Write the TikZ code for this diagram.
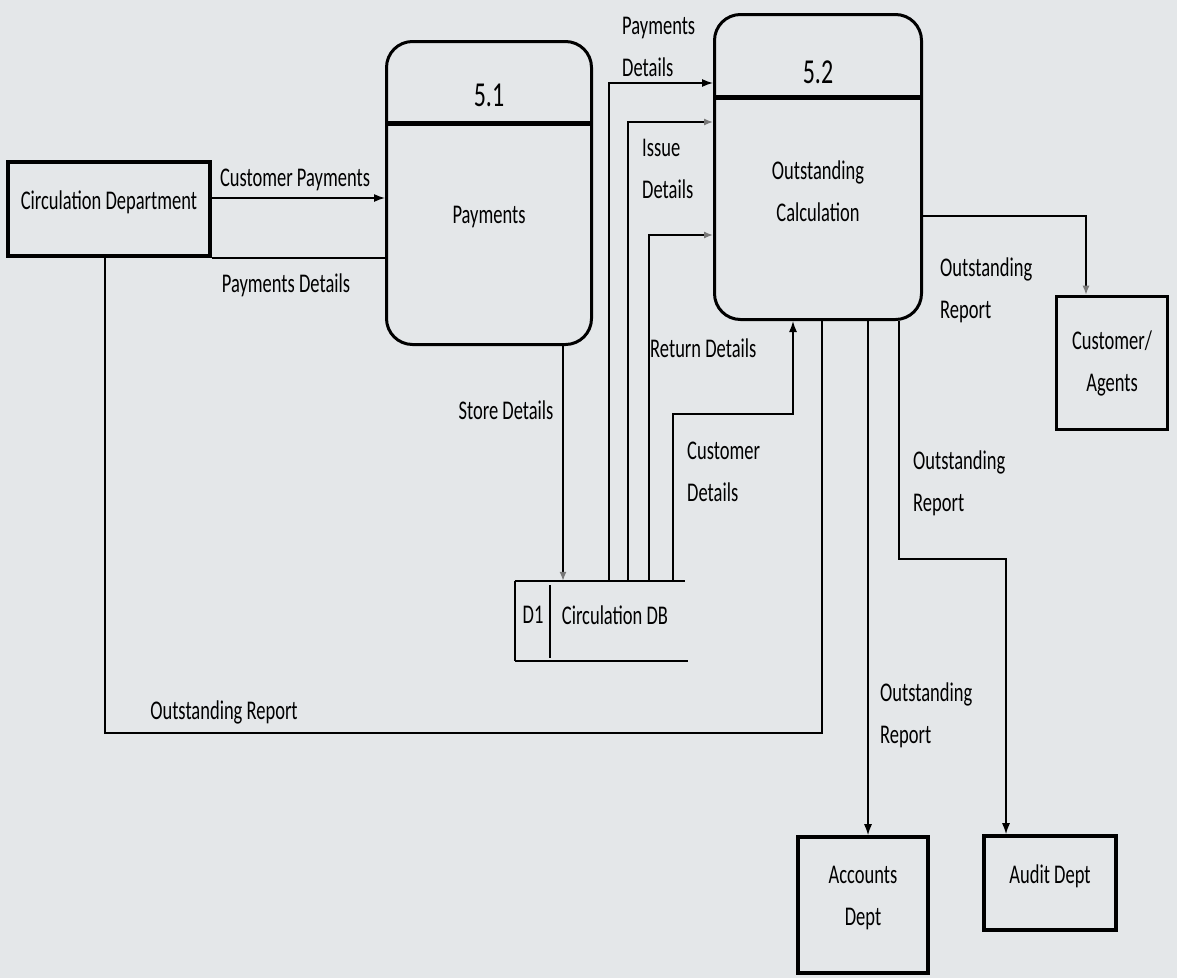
\documentclass[tikz,border=0pt]{standalone}
\usepackage{fontspec}
\setmainfont{Carlito}[FakeStretch=0.685]
\usepackage{xcolor}
\usetikzlibrary{arrows.meta,positioning}
\definecolor{paper}{RGB}{228,231,233}
\definecolor{tipgray}{RGB}{120,120,120}

\begin{document}
\begin{tikzpicture}[x=1pt, y=-1pt,
  every node/.style={font=\fontsize{27}{42}\selectfont},
  ent/.style={draw, line width=3.6pt, align=center, inner sep=0pt},
  proc/.style={draw, line width=3pt, rounded corners=26pt, inner sep=0pt},
  flow/.style={line width=1.4pt, -{Latex[length=11pt,width=8pt]}},
  faint/.style={line width=1.4pt, -{Latex[length=9pt,width=7pt,color=tipgray]}},
  plain/.style={line width=1.4pt},
  lbl/.style={inner sep=0pt, align=left, anchor=west}]
  \fill[paper] (0,0) rectangle (1177,978);
  \useasboundingbox (0,0) rectangle (1177,978);

  % external entities
  \node[ent, minimum width=202pt, minimum height=94pt] (circ) at (109,209)
       {Circulation Department\\[-24pt]};
  \node[ent, minimum width=111pt, minimum height=133pt] (cust) at (1112,363)
       {Customer/\\Agents};
  \node[ent, minimum width=130pt, minimum height=136pt] (accts) at (863,905)
       {Accounts\\Dept\\[-24pt]};
  \node[ent, minimum width=132pt, minimum height=94pt] (audit) at (1050,883)
       {Audit Dept\\[-24pt]};

  % processes
  \node[proc, minimum width=205pt, minimum height=303pt] (p51) at (489,193) {};
  \draw[line width=5pt] (p51.west |- 0,123) -- (p51.east |- 0,123);
  \node[font=\fontsize{35}{40}\selectfont] (n51) at (489,95) {5.1};
  \node (t51) at (489,217) {Payments};

  \node[proc, minimum width=207pt, minimum height=305pt] (p52) at (818,167) {};
  \draw[line width=5pt] (p52.west |- 0,97) -- (p52.east |- 0,97);
  \node[font=\fontsize{35}{40}\selectfont] (n52) at (818,72) {5.2};
  \node[align=center] (t52) at (818,191) {Outstanding\\Calculation};

  % data store
  \node[minimum width=170pt, minimum height=80pt, inner sep=0pt] (db) at (600,621) {};
  \draw[line width=2pt] (db.north west) -- (db.north east);
  \draw[line width=2pt] (db.south west) -- ([xshift=3pt]db.south east);
  \draw[line width=2pt] (db.north west) -- (db.south west);
  \draw[line width=1.6pt] ([yshift=-4pt]db.north west -| 550,0) -- ([yshift=3pt]db.south west -| 550,0);
  \node (d1) at (533,615) {D1};
  \node (dbname) at (615,615) {Circulation DB};

  % flows
  \draw[flow] (circ.east |- 0,198) -- (p51.west |- 0,198);
  \draw[plain] (p51.west |- circ.south east) -- (circ.south east);
  \draw[faint] (p51.south -| 563,0) -- (db.north -| 563,0);
  \draw[flow] (db.north -| 609,0) |- (p52.west |- 0,83);
  \draw[faint] (db.north -| 628,0) |- (p52.west |- 0,122);
  \draw[faint] (db.north -| 649,0) |- (p52.west |- 0,235);
  \draw[flow] (db.north -| 673,0) |- (793,414) -- (p52.south -| 793,0);
  \draw[plain] (p52.south -| 822,0) |- (105,733) -- (circ.south -| 105,0);
  \draw[faint] (p52.east |- 0,216) -| (cust.north -| 1086,0);
  \draw[flow] (p52.south -| 868,0) -- (accts.north -| 868,0);
  \draw[flow] (p52.south -| 899,0) |- (1006,559) -- (audit.north -| 1006,0);

  % flow labels
  \node[inner sep=0pt] (lcp) at (295,180) {Customer Payments};
  \node[inner sep=0pt] (lpd) at (286,285) {Payments Details};
  \node[inner sep=0pt] (lsd) at (506,410) {Store Details};
  \node[lbl] (lpd2) at (622,47) {Payments\\Details};
  \node[lbl] (lid) at (642,169) {Issue\\Details};
  \node[lbl] (lrd) at (650,348) {Return Details};
  \node[lbl] (lcd) at (687,472) {Customer\\Details};
  \node[lbl] (lor1) at (940,290) {Outstanding\\Report};
  \node[lbl] (lor2) at (913,483) {Outstanding\\Report};
  \node[lbl] (lor3) at (880,715) {Outstanding\\Report};
  \node[inner sep=0pt] (lor4) at (224,712) {Outstanding Report};
\end{tikzpicture}
\end{document}
